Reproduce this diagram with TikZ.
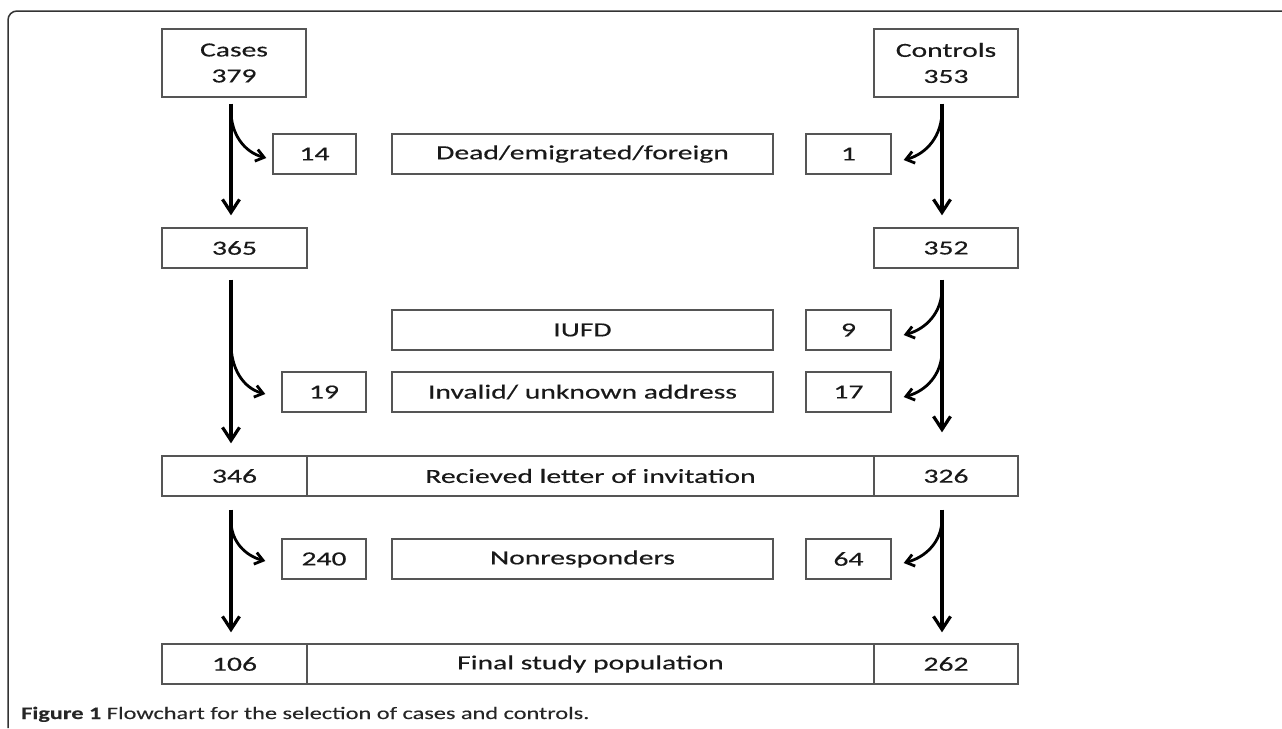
\documentclass[tikz,border=0pt]{standalone}
\usepackage{fontspec}
\setmainfont{Carlito}
\newfontfamily\boxfont[FakeStretch=1.48,FakeBold=0.4]{Carlito}
\newfontfamily\capfont[FakeStretch=1.39,FakeBold=0.2]{Carlito}
\usetikzlibrary{arrows.meta}
\definecolor{boxline}{HTML}{555555}
\tikzset{
  box/.style={draw=boxline, line width=1.4pt, inner sep=0pt, align=center,
    font=\boxfont\fontsize{20}{26}\selectfont, text=black!90},
  vflow/.style={line width=3.2pt, -{Straight Barb[length=13pt,width=17pt,line width=3.2pt]}},
  bflow/.style={line width=2.8pt, -{Straight Barb[length=8pt,width=12pt,line width=2.8pt]}},
}
\newcommand{\bx}[6]{\node[box, minimum width=#4pt, minimum height=#5pt] (#1) at (#2,#3) {#6};}
\begin{document}
\begin{tikzpicture}[x=1pt,y=-1pt]
\useasboundingbox (0,0) rectangle (1282,728);
\draw[line width=1.5pt, color=black!80, rounded corners=9pt] (8,728) -- (8,11) -- (1282,11);

\bx{cases}{234}{63}{144}{68}{Cases\\379}
\bx{controls}{946}{63}{144}{68}{Controls\\353}
\bx{n14}{314.5}{154}{83}{40}{14}
\bx{dead}{582.5}{154}{381}{40}{Dead/emigrated/foreign}
\bx{n1}{848.5}{154}{85}{40}{1}
\bx{n365}{234.5}{248}{145}{40}{365}
\bx{n352}{946}{248}{144}{40}{352}
\bx{iufd}{582.5}{330}{381}{40}{IUFD}
\bx{n9}{848.5}{330}{85}{40}{9}
\bx{n19}{324}{392}{84}{40}{19}
\bx{invalid}{582.5}{392}{381}{40}{Invalid/ unknown address}
\bx{n17}{848.5}{392}{85}{40}{17}
\bx{n346}{234.5}{476}{145}{40}{346}
\bx{recv}{590.5}{476}{567}{40}{Recieved letter of invitation}
\bx{n326}{946}{476}{144}{40}{326}
\bx{n240}{324}{559}{84}{40}{240}
\bx{nonresp}{582.5}{559}{381}{40}{Nonresponders}
\bx{n64}{848.5}{559}{85}{40}{64}
\bx{n106}{234.5}{664}{145}{40}{106}
\bx{final}{590.5}{664}{567}{40}{Final study population}
\bx{n262}{946}{664}{144}{40}{262}

% left column
\draw[vflow] ([xshift=-3pt,yshift=-6pt]cases.south) -- ([xshift=-3.5pt,yshift=12pt]n365.north);
\draw[bflow] ([xshift=-3pt,yshift=-13pt]cases.south) to[out=-90,in=165] ([xshift=-6pt,yshift=-4pt]n14.west);
\draw[vflow] ([xshift=-3.5pt,yshift=-11pt]n365.south) -- ([xshift=-3.5pt,yshift=12pt]n346.north);
\draw[bflow] ([xshift=-3.5pt,yshift=-75pt]n365.south) to[out=-90,in=165] ([xshift=-16pt,yshift=-2pt]n19.west);
\draw[vflow] ([xshift=-3.5pt,yshift=-13pt]n346.south) -- ([xshift=-3.5pt,yshift=11pt]n106.north);
\draw[bflow] ([xshift=-3.5pt,yshift=-24pt]n346.south) to[out=-90,in=165] ([xshift=-16pt,yshift=-2pt]n240.west);

% right column
\draw[vflow] ([xshift=-4pt,yshift=-6pt]controls.south) -- ([xshift=-4pt,yshift=12pt]n352.north);
\draw[bflow] ([xshift=-4pt,yshift=-13pt]controls.south) to[out=-90,in=15] ([xshift=12pt,yshift=-6pt]n1.east);
\draw[vflow] ([xshift=-4pt,yshift=-11pt]n352.south) -- ([xshift=-4pt,yshift=23pt]n326.north);
\draw[bflow] ([xshift=-4pt,yshift=-20pt]n352.south) to[out=-90,in=15] ([xshift=12pt,yshift=-5pt]n9.east);
\draw[bflow] ([xshift=-4pt,yshift=-82pt]n352.south) to[out=-90,in=15] ([xshift=12pt,yshift=-5pt]n17.east);
\draw[vflow] ([xshift=-4pt,yshift=-13pt]n326.south) -- ([xshift=-4pt,yshift=11pt]n262.north);
\draw[bflow] ([xshift=-4pt,yshift=-22pt]n326.south) to[out=-90,in=15] ([xshift=12pt,yshift=-4pt]n64.east);

\node[anchor=base west, inner sep=0pt, font=\capfont\fontsize{17.5}{20}\selectfont, text=black!85] (cap) at (21,719)
  {\textbf{Figure 1} Flowchart for the selection of cases and controls.};
\end{tikzpicture}
\end{document}
